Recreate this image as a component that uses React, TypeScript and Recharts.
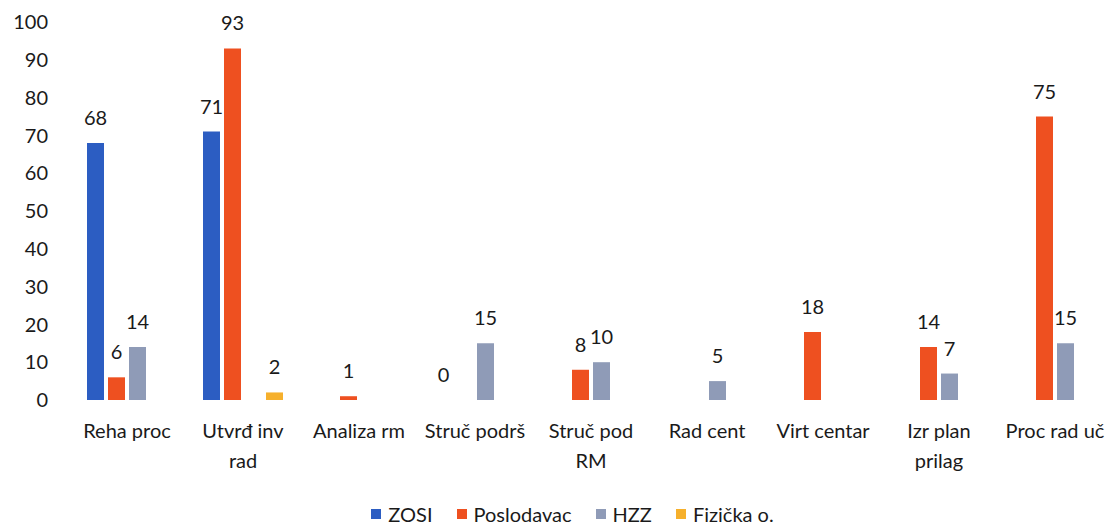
import React from "react";
import { BarChart, Bar, XAxis, YAxis, Legend, Cell } from "recharts";

const categories = [
  "Reha proc",
  "Utvrđ inv\nrad",
  "Analiza rm",
  "Struč podrš",
  "Struč pod\nRM",
  "Rad cent",
  "Virt centar",
  "Izr plan\nprilag",
  "Proc rad uč",
];
const zosi = [68, 71, null, 0, null, null, null, null, null];
const poslodavac = [6, 93, 1, null, 8, null, 18, 14, 75];
const hzz = [14, null, null, 15, 10, 5, null, 7, 15];
const fizicka = [null, 2, null, null, null, null, null, null, null];
const yTicks = [0, 10, 20, 30, 40, 50, 60, 70, 80, 90, 100];

const data = categories.map((c, i) => ({
  name: c,
  ZOSI: zosi[i],
  Poslodavac: poslodavac[i],
  HZZ: hzz[i],
  "Fizička o.": fizicka[i],
}));

const FONT = "Lato, 'Open Sans', sans-serif";

const series = [
  { key: "ZOSI", color: "#2C5DC2", values: zosi },
  { key: "Poslodavac", color: "#EE5020", values: poslodavac },
  { key: "HZZ", color: "#8F9BB7", values: hzz },
  { key: "Fizička o.", color: "#F6B02C", values: fizicka },
];

const CategoryTick = (props: any) => {
  const { x, y, payload } = props;
  const lines = String(payload.value).split("\n");
  return (
    <g transform={`translate(${x},${y})`}>
      {lines.map((l: string, i: number) => (
        <text
          key={i}
          x={0}
          y={i * 30}
          textAnchor="middle"
          dominantBaseline="central"
          fill="#1a1a1a"
          fontSize={20}
          fontFamily={FONT}
        >
          {l}
        </text>
      ))}
    </g>
  );
};

const renderLabel = (props: any) => {
  const { x, y, width, height, value } = props;
  if (value === null || value === undefined) return null;
  const top = value === 0 ? y + height : Math.min(y, y + height);
  return (
    <text
      x={x + width / 2}
      y={top - 26}
      textAnchor="middle"
      dominantBaseline="central"
      fill="#1a1a1a"
      fontSize={20}
      fontFamily={FONT}
    >
      {value}
    </text>
  );
};

const LegendContent = () => (
  <div
    style={{
      display: "flex",
      justifyContent: "center",
      alignItems: "center",
      fontFamily: FONT,
      fontSize: 20,
      color: "#1a1a1a",
      paddingLeft: 32,
      paddingTop: 8,
    }}
  >
    {series.map((s) => (
      <span
        key={s.key}
        style={{ display: "inline-flex", alignItems: "center", margin: "0 12px" }}
      >
        <span
          style={{
            display: "inline-block",
            width: 10,
            height: 10,
            background: s.color,
            marginRight: 7,
          }}
        />
        {s.key}
      </span>
    ))}
  </div>
);

export default function App() {
  return (
    <div style={{ width: 1120, height: 524, background: "#fff" }}>
      <style>{"body{margin:0;background:#fff}"}</style>
      <BarChart
        width={1120}
        height={524}
        data={data}
        margin={{ top: 22, right: 7, bottom: 0, left: 0 }}
        barCategoryGap={18}
        barGap={4}
      >
        <XAxis
          dataKey="name"
          axisLine={false}
          tickLine={false}
          interval={0}
          height={94}
          tick={<CategoryTick />}
          tickMargin={24}
        />
        <YAxis
          domain={[0, 100]}
          ticks={yTicks}
          axisLine={false}
          tickLine={false}
          width={69}
          tickMargin={15}
          tick={{ fill: "#1a1a1a", fontSize: 20, fontFamily: FONT }}
        />
        <Legend
          verticalAlign="bottom"
          align="center"
          height={30}
          content={<LegendContent />}
        />
        {series.map((s) => (
          <Bar
            key={s.key}
            dataKey={s.key}
            fill={s.color}
            isAnimationActive={false}
            minPointSize={(v: any) => (v === 0 ? 1 : 0)}
            label={renderLabel}
          >
            {s.values.map((v, i) => (
              <Cell key={i} fill={v === 0 ? "transparent" : s.color} />
            ))}
          </Bar>
        ))}
      </BarChart>
    </div>
  );
}
